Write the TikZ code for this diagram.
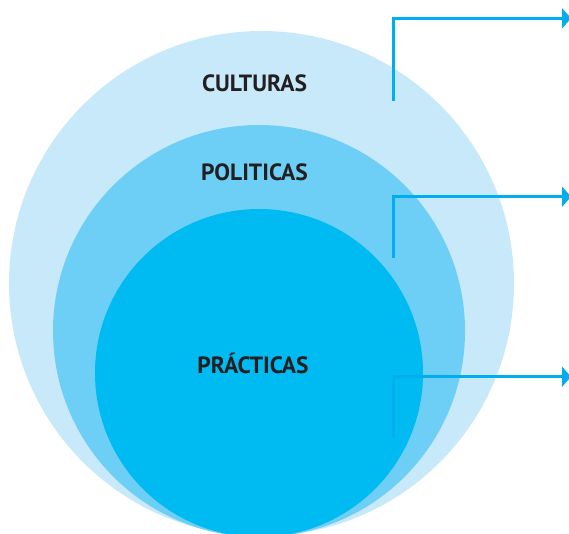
\documentclass[tikz,border=0pt]{standalone}
\usepackage{fontspec}
\setmainfont{PT Sans}
\usetikzlibrary{arrows.meta}
\definecolor{outerc}{HTML}{C7E9F9}
\definecolor{midc}{HTML}{6DCFF6}
\definecolor{innerc}{HTML}{00BAF2}
\definecolor{linec}{HTML}{00AEEF}
\definecolor{txt}{HTML}{231F20}
\tikzset{
  disc/.style={circle, inner sep=0pt, draw=none},
  lbl/.style={text=txt, font=\fontsize{23.5}{27}\selectfont\bfseries, inner sep=0pt},
  conn/.style={draw=linec, line width=2.8pt, -{Triangle[length=9pt,width=20pt]}}
}
\begin{document}
\begin{tikzpicture}[x=1pt,y=-1pt]
\useasboundingbox (0,0) rectangle (569,533);
\clip (0,0) rectangle (569,533);
\node[disc, fill=outerc, minimum size=505pt] (outer) at (261.5,283.5) {};
\node[disc, fill=midc, minimum size=412pt] (middle) at (259,331) {};
\node[disc, fill=innerc, minimum size=328pt] (inner) at (259,373) {};
\node[lbl] (cult) at (254.5,83) {CULTURAS};
\node[lbl] (pol) at (254.5,172) {POLITICAS};
\node[lbl] (prac) at (253,363) {PRÁCTICAS};
\coordinate (s1) at (393.3,101);
\coordinate (e1) at (571,18.3);
\coordinate (s2) at (393.3,258);
\coordinate (e2) at (571,196.7);
\coordinate (s3) at (393.3,438);
\coordinate (e3) at (571,376.7);
\draw[conn] (s1) |- (e1);
\draw[conn] (s2) |- (e2);
\draw[conn] (s3) |- (e3);
\end{tikzpicture}
\end{document}
